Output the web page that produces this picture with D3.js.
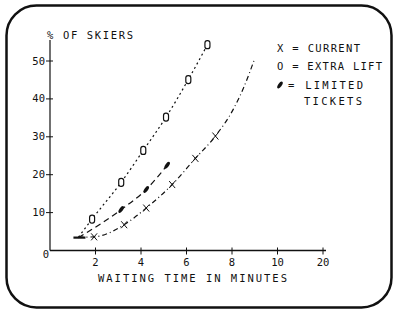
<!DOCTYPE html>
<html>
<head>
<meta charset="utf-8">
<script src="https://cdn.jsdelivr.net/npm/d3@7"></script>
<style>
  html, body { margin: 0; padding: 0; background: #fff; }
  svg text { font-family: "DejaVu Sans Mono", monospace; font-size: 10.5px; fill: #111; }
</style>
</head>
<body>
<div id="chart"></div>
<script>
// Werte (Minuten / % der Skifahrer)
const waitCurrent = [1.25, 1.94, 3.26, 4.23, 5.37, 6.39, 7.27, 8.06, 8.5, 8.99];
const pctCurrent  = [3.5, 3.6, 6.8, 11.2, 17.4, 24.3, 30.2, 37.3, 42.8, 50.5];
const markCurrent = [0, 1, 1, 1, 1, 1, 1, 0, 0, 0];

const waitExtra = [1.25, 1.85, 3.13, 4.1, 5.1, 6.08, 6.92];
const pctExtra  = [3.5, 8.3, 18.0, 26.4, 35.2, 45.1, 54.3];
const markExtra = [0, 1, 1, 1, 1, 1, 1];

const waitLimited = [1.25, 3.13, 4.23, 5.15];
const pctLimited  = [3.4, 10.8, 16.1, 22.5];
const markLimited = [0, 1, 1, 1];

const xTickValues = [2, 4, 6, 8, 10, 12];
const xTickLabels = ['2', '4', '6', '8', '10', '20'];   // Achsenbruch: letzter Tick = 20
const yTickValues = [10, 20, 30, 40, 50];

const d3 = window.d3;
const width = 394, height = 311;

const svg = d3.select('#chart').append('svg')
    .attr('width', width)
    .attr('height', height);

// abgerundeter Rahmen
svg.append('rect')
    .attr('x', 6.5).attr('y', 5.5)
    .attr('width', 385).attr('height', 302)
    .attr('rx', 30).attr('ry', 30)
    .attr('fill', 'none')
    .attr('stroke', '#111')
    .attr('stroke-width', 2.5);

const x = d3.scaleLinear().domain([0, 12]).range([50, 323]);
const y = d3.scaleLinear().domain([0, 50]).range([250.5, 61]);

const ink = '#111';

// Achsen
svg.append('line')
    .attr('x1', x(0)).attr('x2', x(0))
    .attr('y1', y(0)).attr('y2', 40)
    .attr('stroke', ink).attr('stroke-width', 1.2);
svg.append('line')
    .attr('x1', x(0)).attr('x2', 326)
    .attr('y1', y(0)).attr('y2', y(0))
    .attr('stroke', ink).attr('stroke-width', 1.4);

// y-Ticks
svg.selectAll('line.ytick')
    .data(yTickValues)
    .enter().append('line')
    .attr('class', 'ytick')
    .attr('x1', x(0) - 4).attr('x2', x(0) + 3)
    .attr('y1', d => y(d)).attr('y2', d => y(d))
    .attr('stroke', ink).attr('stroke-width', 1);
svg.selectAll('text.ylab')
    .data(yTickValues)
    .enter().append('text')
    .attr('class', 'ylab')
    .attr('x', x(0) - 5)
    .attr('y', d => y(d) + 3.5)
    .attr('text-anchor', 'end')
    .text(d => d);
svg.append('text')
    .attr('x', x(0) - 1)
    .attr('y', y(0) + 7)
    .attr('text-anchor', 'end')
    .text('0');

// x-Ticks
svg.selectAll('line.xtick')
    .data(xTickValues)
    .enter().append('line')
    .attr('class', 'xtick')
    .attr('x1', d => x(d)).attr('x2', d => x(d))
    .attr('y1', y(0) - 3).attr('y2', y(0) + 4)
    .attr('stroke', ink).attr('stroke-width', 1);
svg.selectAll('text.xlab')
    .data(xTickValues)
    .enter().append('text')
    .attr('class', 'xlab')
    .attr('x', d => x(d))
    .attr('y', y(0) + 15)
    .attr('text-anchor', 'middle')
    .text((d, i) => xTickLabels[i]);

// Achsentitel
svg.append('text')
    .attr('x', 47).attr('y', 38.5)
    .attr('textLength', 86).attr('lengthAdjust', 'spacing')
    .text('% OF SKIERS');
svg.append('text')
    .attr('x', 98).attr('y', 282)
    .attr('textLength', 189).attr('lengthAdjust', 'spacing')
    .text('WAITING TIME IN MINUTES');

// Kurven
const series = [
    { w: waitCurrent, p: pctCurrent, m: markCurrent, dash: '5,3,1,3', kind: 'x' },
    { w: waitExtra, p: pctExtra, m: markExtra, dash: '2,3', kind: 'o' },
    { w: waitLimited, p: pctLimited, m: markLimited, dash: '6,4', kind: 'f' }
];

const line = d3.line()
    .x(d => x(d[0]))
    .y(d => y(d[1]))
    .curve(d3.curveMonotoneX);

function drawMarker(g, kind) {
    if (kind === 'x') {
        g.append('path')
            .attr('d', 'M-3,-3.5L3,3.5M3,-3.5L-3,3.5')
            .attr('stroke', ink).attr('stroke-width', 1).attr('fill', 'none');
    } else if (kind === 'o') {
        g.append('rect')
            .attr('x', -2.5).attr('y', -4)
            .attr('width', 5).attr('height', 8)
            .attr('rx', 2.3)
            .attr('fill', '#fff').attr('stroke', ink).attr('stroke-width', 1.2);
    } else {
        g.append('ellipse')
            .attr('rx', 1.8).attr('ry', 4)
            .attr('transform', 'rotate(35)')
            .attr('fill', ink);
    }
}

series.forEach(s => {
    const pts = s.w.map((w, i) => [w, s.p[i]]);
    svg.append('path')
        .datum(pts)
        .attr('d', line)
        .attr('fill', 'none')
        .attr('stroke', ink)
        .attr('stroke-width', 1.2)
        .attr('stroke-dasharray', s.dash);

    pts.forEach((d, i) => {
        if (!s.m[i]) return;
        const g = svg.append('g')
            .attr('transform', `translate(${x(d[0])},${y(d[1])})`);
        drawMarker(g, s.kind);
    });
});

// gemeinsamer Startstrich
svg.append('line')
    .attr('x1', x(waitLimited[0]) - 5).attr('x2', x(waitLimited[0]) + 7)
    .attr('y1', y(pctLimited[0])).attr('y2', y(pctLimited[0]))
    .attr('stroke', ink).attr('stroke-width', 2.2);

// Legende
svg.append('text')
    .attr('x', 277).attr('y', 51.5)
    .attr('textLength', 83).attr('lengthAdjust', 'spacing')
    .text('X = CURRENT');
svg.append('text')
    .attr('x', 277).attr('y', 70)
    .attr('textLength', 105).attr('lengthAdjust', 'spacing')
    .text('O = EXTRA LIFT');
const lg = svg.append('g').attr('transform', 'translate(280,85)');
drawMarker(lg, 'f');
svg.append('text')
    .attr('x', 288).attr('y', 88.5)
    .attr('textLength', 75).attr('lengthAdjust', 'spacing')
    .text('= LIMITED');
svg.append('text')
    .attr('x', 304).attr('y', 105)
    .attr('textLength', 58).attr('lengthAdjust', 'spacing')
    .text('TICKETS');
</script>
</body>
</html>
